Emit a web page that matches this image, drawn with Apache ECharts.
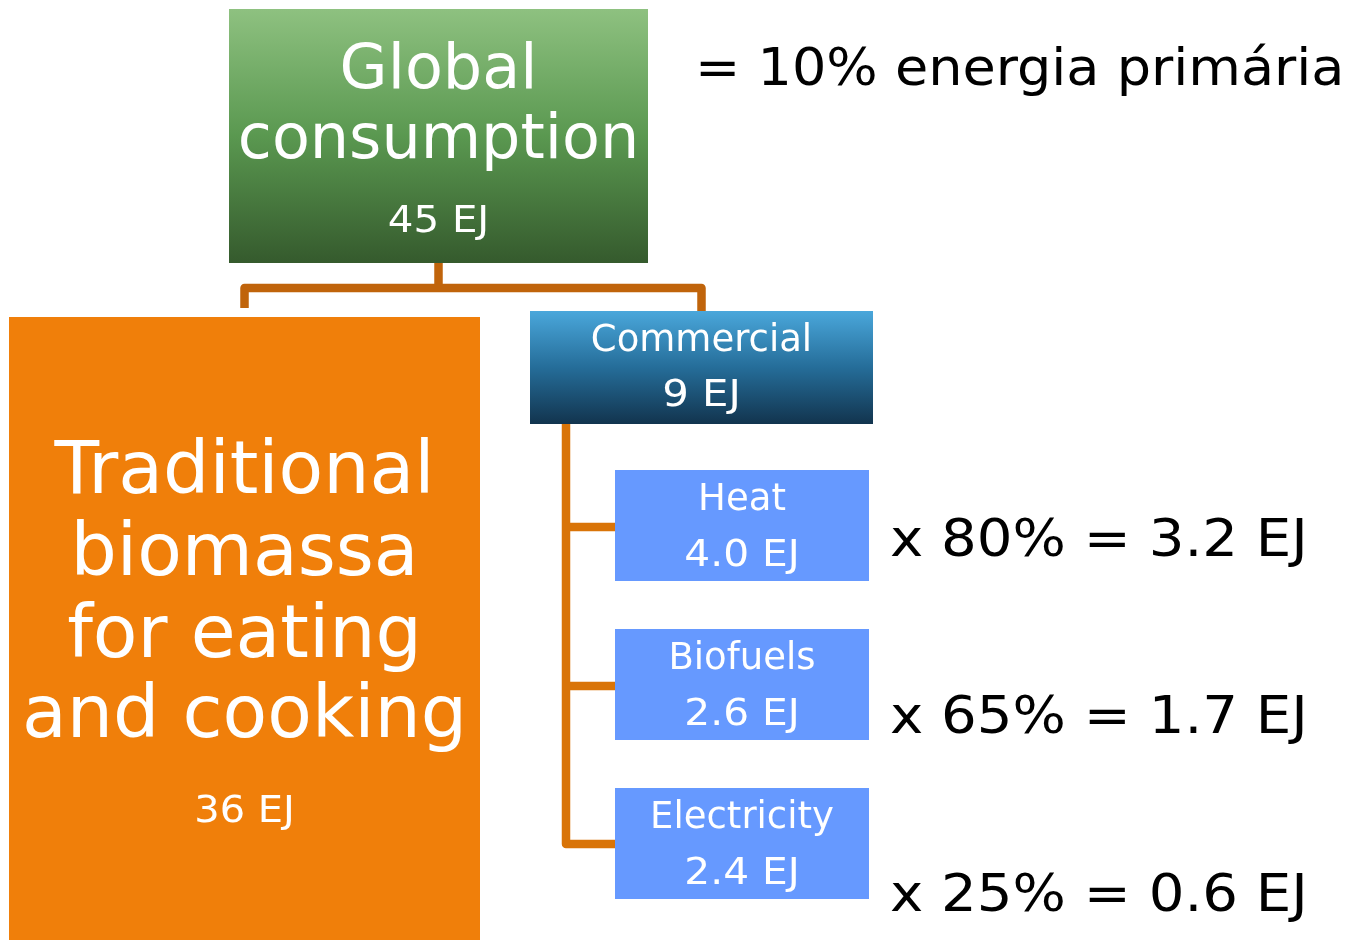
<!DOCTYPE html>
<html>
<head>
<meta charset="utf-8">
<script src="https://cdn.jsdelivr.net/npm/echarts@6/dist/echarts.min.js"></script>
<style>
  html, body { margin: 0; padding: 0; background: #fff; }
  #main { width: 1347px; height: 940px; }
</style>
</head>
<body>
<div id="main"></div>
<script>
// data
const totalName = ["Global", "consumption"];
const totalValue = 45;
const primaryShare = 10;
const traditionalName = ["Traditional", "biomassa", "for eating", "and cooking"];
const traditionalValue = 36;
const commercialName = "Commercial";
const commercialValue = 9;
const uses = ["Heat", "Biofuels", "Electricity"];
const useValues = [4.0, 2.6, 2.4];
const efficiencies = [80, 65, 25];
const usefulValues = [3.2, 1.7, 0.6];

// layout (pixels)
const FONT = '"DejaVu Sans", Verdana, sans-serif';
const globalBox = { x: 229, y: 9, w: 419, h: 254 };
const tradBox = { x: 9, y: 317, w: 471, h: 623 };
const commBox = { x: 530, y: 311, w: 343, h: 113 };
const useBox = { x: 615, w: 254, h: 111, tops: [470, 629, 788] };
const useRowY = [527, 686, 844];

// DejaVu is a bit narrower than the original's Verdana, stretch some labels
function label(x, baseline, text, size, color, align, sx) {
  return {
    type: "text",
    x: x,
    y: baseline - 0.3 * size,
    scaleX: sx || 1,
    z: 10,
    style: {
      text: text,
      fill: color || "#fff",
      font: size + "px " + FONT,
      align: align || "center",
      verticalAlign: "middle",
    },
  };
}

function ej(v) {
  return v + " EJ";
}

function box(b, fill) {
  return {
    type: "rect",
    z: 5,
    shape: { x: b.x, y: b.y, width: b.w, height: b.h },
    style: { fill: fill },
  };
}

function line(points, color) {
  return {
    type: "polyline",
    z: 1,
    shape: { points: points },
    style: { stroke: color, lineWidth: 8.5, fill: null, lineJoin: "round" },
  };
}

const green = new echarts.graphic.LinearGradient(0, 0, 0, 1, [
  { offset: 0, color: "#8ec180" },
  { offset: 0.5, color: "#5a9850" },
  { offset: 1, color: "#355a2d" },
]);
const blue = new echarts.graphic.LinearGradient(0, 0, 0, 1, [
  { offset: 0, color: "#4aa7db" },
  { offset: 0.5, color: "#256d99" },
  { offset: 1, color: "#12344e" },
]);

let elements = [];

// connectors
const gcx = globalBox.x + globalBox.w / 2;
const tcx = tradBox.x + tradBox.w / 2;
const ccx = commBox.x + commBox.w / 2;
elements.push(line([[gcx, globalBox.y + globalBox.h], [gcx, 288]], "#c0640b"));
elements.push(line([[tcx, 308], [tcx, 288], [ccx, 288], [ccx, commBox.y]], "#c0640b"));
const spineX = 566;
elements.push(line([[spineX, commBox.y + commBox.h], [spineX, useRowY[2]], [useBox.x, useRowY[2]]], "#d97408"));
useRowY.slice(0, 2).forEach((y) => {
  elements.push(line([[spineX, y], [useBox.x, y]], "#d97408"));
});

// global
elements.push(box(globalBox, green));
elements.push(label(gcx, 90, totalName[0], 62));
elements.push(label(gcx, 160, totalName[1], 62));
elements.push(label(gcx, 233, ej(totalValue), 37, null, null, 1.09));
elements.push(label(695, 87, "= " + primaryShare + "% energia primária", 52, "#000", "left", 1.04));

// traditional
elements.push(box(tradBox, "#f07f0a"));
const tradBase = [496, 578, 660, 740];
traditionalName.forEach((t, i) => {
  elements.push(label(tcx, tradBase[i], t, 73));
});
elements.push(label(tcx, 823, ej(traditionalValue), 37, null, null, 1.08));

// commercial
elements.push(box(commBox, blue));
elements.push(label(ccx, 352, commercialName, 37));
elements.push(label(ccx, 407, ej(commercialValue), 37, null, null, 1.13));

// end uses
const ucx = useBox.x + useBox.w / 2;
const resultBase = [558, 735, 913];
uses.forEach((u, i) => {
  const top = useBox.tops[i];
  elements.push(box({ x: useBox.x, y: top, w: useBox.w, h: useBox.h }, "#6699ff"));
  elements.push(label(ucx, top + 41, u, 37));
  elements.push(label(ucx, top + 97, ej(useValues[i].toFixed(1)), 37, null, null, 1.1));
  elements.push(label(890, resultBase[i],
    "x " + efficiencies[i] + "% = " + ej(usefulValues[i].toFixed(1)), 52, "#000", "left", 1.08));
});

const chart = echarts.init(document.getElementById("main"), null, { renderer: "canvas" });
chart.setOption({
  backgroundColor: "#fff",
  animation: false,
  graphic: { elements: elements },
});
</script>
</body>
</html>
